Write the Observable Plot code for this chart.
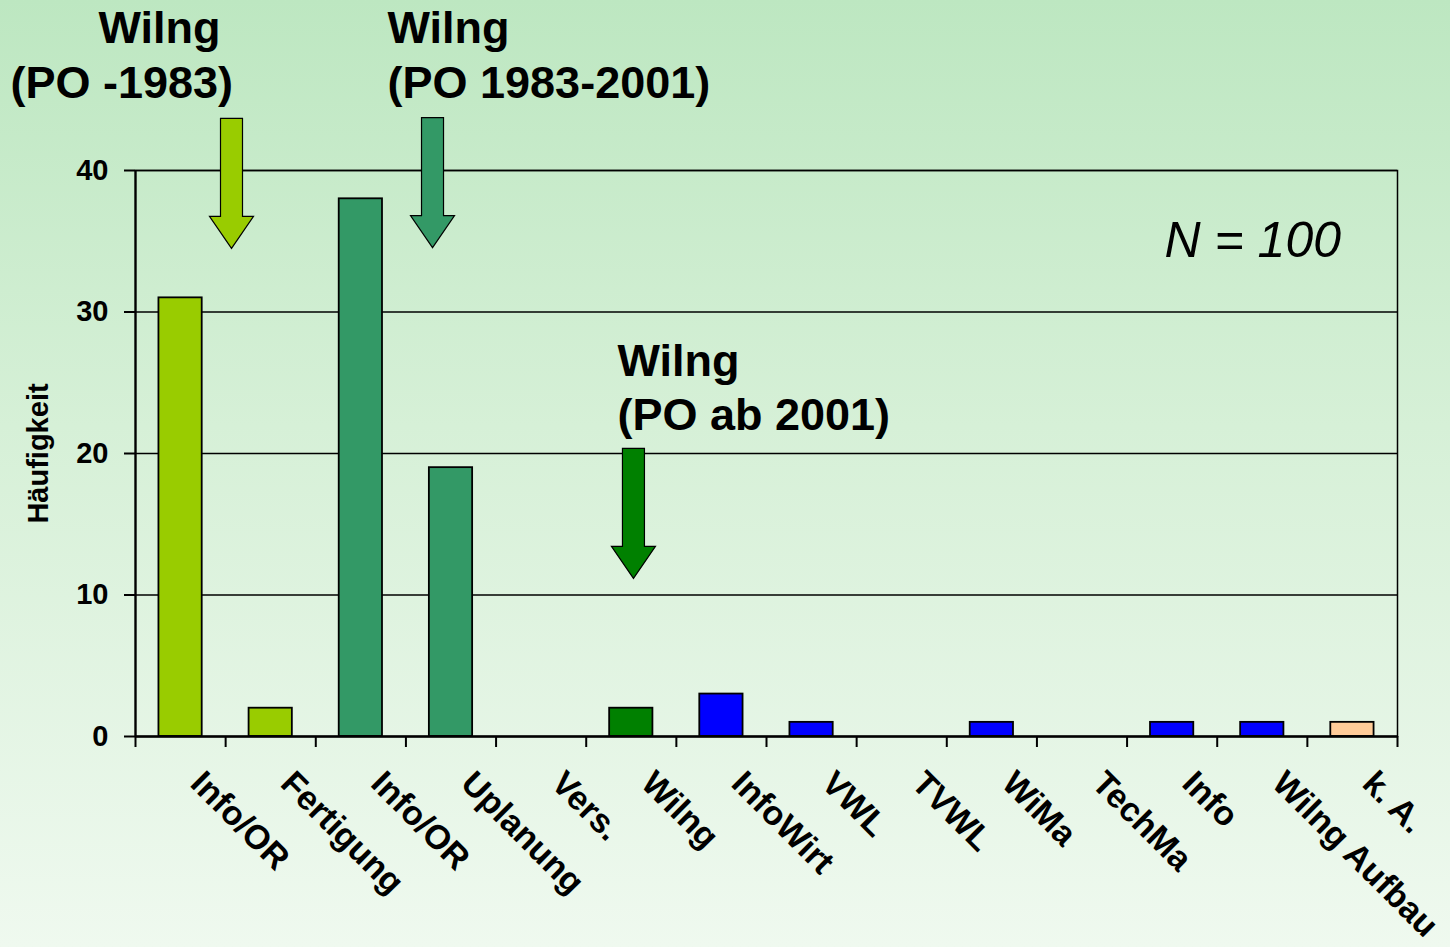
<!DOCTYPE html>
<html>
<head>
<meta charset="utf-8">
<script src="https://cdn.jsdelivr.net/npm/d3@7"></script>
<script src="https://cdn.jsdelivr.net/npm/@observablehq/plot@0.6"></script>
<style>
  html, body { margin: 0; padding: 0; width: 1450px; height: 947px; overflow: hidden; }
  body { background: linear-gradient(to bottom, #bde7c1 0%, #d6f0d7 45%, #eff9ef 100%); }
  #chart svg { display: block; }
</style>
</head>
<body>
<div id="chart"></div>
<script>
// ---- data ----
const categories = ["Info/OR", "Fertigung", "Info/OR", "Uplanung", "Vers.", "Wilng", "InfoWirt", "VWL", "TVWL", "WiMa", "TechMa", "Info", "Wilng Aufbau", "k. A."];
const values = [31, 2, 38, 19, 0, 2, 3, 1, 0, 1, 0, 1, 1, 1];
const groups = ["PO -1983", "PO -1983", "PO 1983-2001", "PO 1983-2001", "PO ab 2001", "PO ab 2001", "andere", "andere", "andere", "andere", "andere", "andere", "andere", "k. A."];
const groupNames = ["PO -1983", "PO 1983-2001", "PO ab 2001", "andere", "k. A."];
const groupColors = ["#99cc00", "#339966", "#008000", "#0000ff", "#ffcc99"];
const yTicks = [0, 10, 20, 30, 40];

// annotation arrows: x in category units, y = value at arrow tip
const arrowGroups = ["PO -1983", "PO 1983-2001", "PO ab 2001"];
const arrowX = [0.565, 2.795, 5.024];
const arrowTipY = [34.5, 34.55, 11.17];

// annotation texts (baseline positions in data units)
const noteTexts = ["Wilng", "(PO -1983)", "Wilng", "(PO 1983-2001)", "Wilng", "(PO ab 2001)"];
const noteX = [-0.91, -1.887, 2.296, 2.296, 4.847, 4.847];
const noteY = [48.98, 45.09, 48.98, 45.09, 25.51, 21.63];

const nText = "N = 100";
const nX = 10.915, nY = 33.92;

// ---- tables ----
const bars = categories.map((c, i) => ({i, category: c, value: values[i], group: groups[i]})).filter(d => d.value > 0);
const labels = categories.map((c, i) => ({i, category: c}));
const arrows = arrowGroups.map((g, k) => ({group: g, x: arrowX[k], y: arrowTipY[k]}));
const notes = noteTexts.map((t, k) => ({text: t, x: noteX[k], y: noteY[k]}));
const boundaries = d3.range(categories.length + 1).map(k => k - 0.5);

const halfBar = 0.24;
const arrowSymbol = {
  draw(ctx) {
    ctx.moveTo(0, 0);
    ctx.lineTo(-22, -32);
    ctx.lineTo(-11, -32);
    ctx.lineTo(-11, -130);
    ctx.lineTo(11, -130);
    ctx.lineTo(11, -32);
    ctx.lineTo(22, -32);
    ctx.closePath();
  }
};

const font = "'Liberation Sans', Arial, sans-serif";

const chart = Plot.plot({
  width: 1450,
  height: 947,
  marginLeft: 135,
  marginRight: 53,
  marginTop: 170,
  marginBottom: 211,
  style: {background: "transparent", fontFamily: font, color: "black", overflow: "visible"},
  x: {type: "linear", domain: [-0.5, categories.length - 0.5], axis: null},
  y: {domain: [0, 40], axis: null},
  color: {domain: groupNames, range: groupColors},
  marks: [
    Plot.gridY(yTicks.filter(t => t > 0), {stroke: "black", strokeOpacity: 1, strokeWidth: 1.5}),
    Plot.rectY(bars, {
      x1: d => d.i - halfBar,
      x2: d => d.i + halfBar,
      y: "value",
      fill: "group",
      stroke: "black",
      strokeWidth: 1.8
    }),
    Plot.frame({stroke: "black", strokeWidth: 1.5}),
    Plot.ruleX([-0.5], {stroke: "black", strokeWidth: 2.2}),
    Plot.ruleY([0], {stroke: "black", strokeWidth: 2.6}),
    Plot.axisY({
      ticks: yTicks,
      tickSize: 11,
      tickPadding: 16,
      strokeWidth: 2,
      fontSize: 29,
      fontWeight: "bold",
      label: null
    }),
    Plot.axisX({
      ticks: boundaries,
      tickSize: 11,
      tickFormat: () => "",
      strokeWidth: 2,
      label: null
    }),
    Plot.text(labels, {
      x: "i",
      y: 0,
      text: "category",
      rotate: 45,
      textAnchor: "start",
      lineAnchor: "middle",
      dx: 16,
      dy: 41,
      fontSize: 34,
      fontWeight: "bold"
    }),
    Plot.text(["Häufigkeit"], {
      frameAnchor: "left",
      text: d => d,
      textAnchor: "middle",
      dx: -97,
      rotate: -90,
      fontSize: 29,
      fontWeight: "bold"
    }),
    Plot.dot(arrows, {
      x: "x",
      y: "y",
      symbol: arrowSymbol,
      r: 10,
      fill: "group",
      stroke: "black",
      strokeWidth: 1.2
    }),
    Plot.text(notes, {
      x: "x",
      y: "y",
      text: "text",
      textAnchor: "start",
      lineAnchor: "bottom",
      fontSize: 45,
      fontWeight: "bold"
    }),
    Plot.text([nText], {
      x: () => nX,
      y: () => nY,
      text: d => d,
      textAnchor: "start",
      lineAnchor: "bottom",
      fontSize: 50,
      fontStyle: "italic"
    })
  ]
});
document.getElementById("chart").appendChild(chart);
</script>
</body>
</html>
